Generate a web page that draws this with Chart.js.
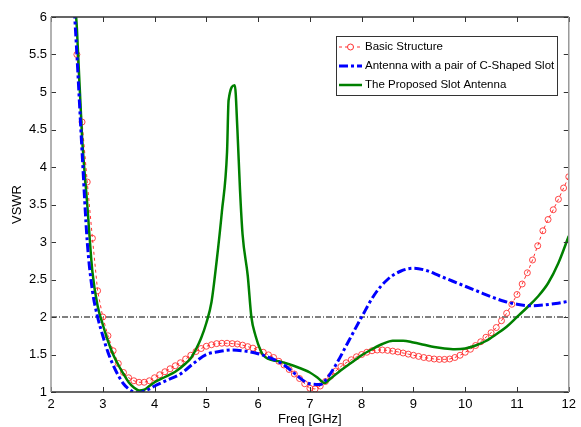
<!DOCTYPE html>
<html>
<head>
<meta charset="utf-8">
<script src="https://cdn.jsdelivr.net/npm/chart.js@4"></script>
<style>
html,body{margin:0;padding:0;background:#fff}
canvas{display:block}
</style>
</head>
<body>
<canvas id="vswr" width="581" height="427"></canvas>
<script>

// Basic Structure (red circles)
const basicFreq = [2.5,2.6,2.7,2.8,2.9,3.0,3.1,3.2,3.3,3.4,3.5,3.6,3.7,3.8,3.9,4.0,4.1,4.2,4.3,4.4,4.5,4.6,4.7,4.8,4.9,5.0,5.1,5.2,5.3,5.4,5.5,5.6,5.7,5.8,5.9,6.0,6.1,6.2,6.3,6.4,6.5,6.6,6.7,6.8,6.9,7.0,7.1,7.2,7.3,7.4,7.5,7.6,7.7,7.8,7.9,8.0,8.1,8.2,8.3,8.4,8.5,8.6,8.7,8.8,8.9,9.0,9.1,9.2,9.3,9.4,9.5,9.6,9.7,9.8,9.9,10.0,10.1,10.2,10.3,10.4,10.5,10.6,10.7,10.8,10.9,11.0,11.1,11.2,11.3,11.4,11.5,11.6,11.7,11.8,11.9,12.0]
const basicVswr = [5.5,4.6,3.8,3.05,2.35,2.0,1.75,1.55,1.38,1.26,1.19,1.15,1.13,1.13,1.15,1.19,1.23,1.27,1.31,1.35,1.39,1.44,1.49,1.54,1.58,1.61,1.63,1.645,1.65,1.65,1.645,1.64,1.625,1.605,1.585,1.56,1.53,1.495,1.46,1.41,1.36,1.30,1.24,1.18,1.11,1.05,1.04,1.08,1.14,1.21,1.28,1.34,1.39,1.43,1.47,1.50,1.53,1.55,1.56,1.56,1.555,1.545,1.535,1.52,1.505,1.49,1.475,1.46,1.45,1.44,1.435,1.435,1.44,1.46,1.49,1.53,1.57,1.62,1.67,1.73,1.79,1.86,1.95,2.05,2.17,2.30,2.44,2.59,2.76,2.95,3.15,3.30,3.43,3.57,3.72,3.87]

// Antenna with a pair of C-Shaped Slot (blue dash-dot)
const cslotFreq = [2.45,2.5,2.6,2.7,2.8,2.9,3.0,3.1,3.2,3.3,3.4,3.5,3.6,3.7,3.8,3.9,4.0,4.25,4.5,4.75,5.0,5.25,5.5,5.75,6.0,6.25,6.5,6.75,6.9,7.0,7.2,7.35,7.5,7.75,8.0,8.25,8.5,8.75,9.0,9.25,9.5,9.75,10.0,10.25,10.5,10.75,11.0,11.25,11.5,11.75,12.0]
const cslotVswr = [6.1,5.5,4.2,3.0,2.35,2.0,1.75,1.53,1.36,1.22,1.11,1.04,1.0,0.99,1.01,1.04,1.08,1.16,1.24,1.38,1.5,1.54,1.56,1.545,1.51,1.45,1.36,1.22,1.14,1.11,1.1,1.2,1.36,1.68,2.0,2.3,2.5,2.61,2.65,2.62,2.55,2.48,2.41,2.34,2.27,2.21,2.17,2.15,2.16,2.18,2.21]

// The Proposed Slot Antenna (green)
const propFreq = [2.45,2.5,2.6,2.7,2.8,2.9,3.0,3.1,3.2,3.3,3.4,3.5,3.6,3.7,3.8,3.9,4.0,4.2,4.4,4.6,4.7,4.8,4.9,5.0,5.1,5.2,5.3,5.4,5.43,5.55,5.6,5.65,5.7,5.8,5.87,5.95,6.05,6.1,6.2,6.3,6.4,6.6,6.8,7.0,7.15,7.28,7.4,7.6,7.8,8.0,8.2,8.4,8.6,8.8,9.0,9.2,9.4,9.6,9.8,10.0,10.2,10.4,10.6,10.8,11.0,11.2,11.4,11.6,11.8,12.0]
const propVswr = [6.3,5.85,4.4,3.5,2.6,2.15,1.9,1.68,1.5,1.36,1.24,1.13,1.06,1.02,1.03,1.08,1.13,1.2,1.27,1.38,1.45,1.57,1.72,1.92,2.2,2.75,3.4,4.2,4.89,5.09,4.5,3.7,3.1,2.55,2.0,1.75,1.55,1.49,1.44,1.42,1.41,1.37,1.32,1.26,1.19,1.12,1.18,1.29,1.39,1.49,1.57,1.64,1.685,1.685,1.66,1.63,1.60,1.58,1.57,1.58,1.62,1.68,1.77,1.87,2.0,2.13,2.27,2.45,2.72,3.08]

// VSWR = 2 reference
const refFreq = [2, 12]
const refVswr = [2, 2]

const seriesNames = ["Basic Structure","Antenna with a pair of C-Shaped Slot","The Proposed Slot Antenna"]

const xTicks = {min:2, max:12, step:1}
const yTicks = {min:1, max:6, step:0.5}

const pts = (xs, ys) => xs.map((x, i) => ({x: x, y: ys[i]}))

const FONT = "'Liberation Sans', Arial, sans-serif"

const boxAndLegend = {
id: 'boxAndLegend',
afterDraw(chart){
const ctx = chart.ctx
const a = chart.chartArea
const xs = chart.scales.x
const ys = chart.scales.y
ctx.save()

// inside ticks, matlab style
ctx.strokeStyle = '#333'
ctx.lineWidth = 1
for(let v = xTicks.min; v <= xTicks.max; v += xTicks.step){
const px = Math.round(xs.getPixelForValue(v)) + 0.5
ctx.beginPath()
ctx.moveTo(px, a.bottom); ctx.lineTo(px, a.bottom - 5)
ctx.moveTo(px, a.top); ctx.lineTo(px, a.top + 5)
ctx.stroke()
}
for(let v = yTicks.min; v <= yTicks.max + 1e-9; v += yTicks.step){
const py = Math.round(ys.getPixelForValue(v)) + 0.5
ctx.beginPath()
ctx.moveTo(a.left, py); ctx.lineTo(a.left + 5, py)
ctx.moveTo(a.right, py); ctx.lineTo(a.right - 5, py)
ctx.stroke()
}

// axes box
ctx.lineWidth = 1.5
ctx.strokeStyle = '#333'
ctx.beginPath()
ctx.moveTo(a.left, a.top); ctx.lineTo(a.right, a.top)
ctx.moveTo(a.left, a.bottom); ctx.lineTo(a.right, a.bottom)
ctx.stroke()
ctx.strokeStyle = '#999'
ctx.beginPath()
ctx.moveTo(a.left, a.top); ctx.lineTo(a.left, a.bottom)
ctx.moveTo(a.right, a.top); ctx.lineTo(a.right, a.bottom)
ctx.stroke()

// legend
const lx = 336, ly = 36, lw = 221, lh = 59
ctx.fillStyle = '#fff'
ctx.fillRect(lx, ly, lw, lh)
ctx.strokeStyle = '#333'
ctx.lineWidth = 1
ctx.strokeRect(lx + 0.5, ly + 0.5, lw, lh)
ctx.font = '11.5px ' + FONT
ctx.textBaseline = 'middle'
ctx.fillStyle = '#000'
const rows = [47, 66, 85]
chart.data.datasets.slice(0, 3).forEach((ds, i) => {
const y = rows[i]
ctx.strokeStyle = ds.borderColor
ctx.lineWidth = ds.borderWidth
ctx.setLineDash(ds.borderDash || [])
ctx.beginPath()
ctx.moveTo(lx + 3, y); ctx.lineTo(lx + 26, y)
ctx.stroke()
ctx.setLineDash([])
if(ds.pointRadius > 0){
ctx.lineWidth = 1
ctx.beginPath()
ctx.arc(lx + 14.5, y, ds.pointRadius, 0, Math.PI * 2)
ctx.fillStyle = '#fff'
ctx.fill()
ctx.stroke()
}
ctx.fillStyle = '#000'
ctx.fillText(ds.label, lx + 29, y)
})
ctx.restore()
}
}

new Chart(document.getElementById('vswr'), {
type: 'line',
data: {
datasets: [
{
label: seriesNames[0],
data: pts(basicFreq, basicVswr),
borderColor: '#ff3030',
borderWidth: 1,
borderDash: [3, 3],
pointRadius: 3,
pointBorderWidth: 1,
pointBackgroundColor: 'rgba(0,0,0,0)',
pointBorderColor: 'rgba(255,40,40,0.85)',
tension: 0,
order: 3
},
{
label: seriesNames[1],
data: pts(cslotFreq, cslotVswr),
borderColor: '#0000ff',
borderWidth: 3,
borderDash: [9, 3, 3, 3],
pointRadius: 0,
cubicInterpolationMode: 'monotone',
order: 1
},
{
label: seriesNames[2],
data: pts(propFreq, propVswr),
borderColor: '#008000',
borderWidth: 2.5,
pointRadius: 0,
cubicInterpolationMode: 'monotone',
order: 2
},
{
label: 'VSWR=2',
data: pts(refFreq, refVswr),
borderColor: '#000',
borderWidth: 1,
borderDash: [6, 2, 1, 2],
pointRadius: 0,
order: 4
}
]
},
options: {
responsive: false,
animation: false,
devicePixelRatio: 1,
layout: {padding: {top: 17, right: 11, left: 0, bottom: 0}},
plugins: {legend: {display: false}, tooltip: {enabled: false}},
scales: {
x: {
type: 'linear',
min: xTicks.min,
max: xTicks.max,
afterFit: s => { s.height = 35 },
ticks: {stepSize: xTicks.step, color: '#000', font: {family: FONT, size: 13}, padding: 5, callback: v => String(v)},
grid: {display: false, drawTicks: false},
border: {display: false},
title: {display: true, text: 'Freq [GHz]', color: '#000', font: {family: FONT, size: 13}, padding: {top: 0, bottom: 0}}
},
y: {
min: yTicks.min,
max: yTicks.max,
afterFit: s => { s.width = 51 },
ticks: {stepSize: yTicks.step, color: '#000', font: {family: FONT, size: 13}, padding: 4, callback: v => String(v)},
grid: {display: false, drawTicks: false},
border: {display: false},
title: {display: true, text: 'VSWR', color: '#000', font: {family: FONT, size: 13}, padding: {top: 10, bottom: 0}}
}
}
},
plugins: [boxAndLegend]
})

</script>
</body>
</html>
